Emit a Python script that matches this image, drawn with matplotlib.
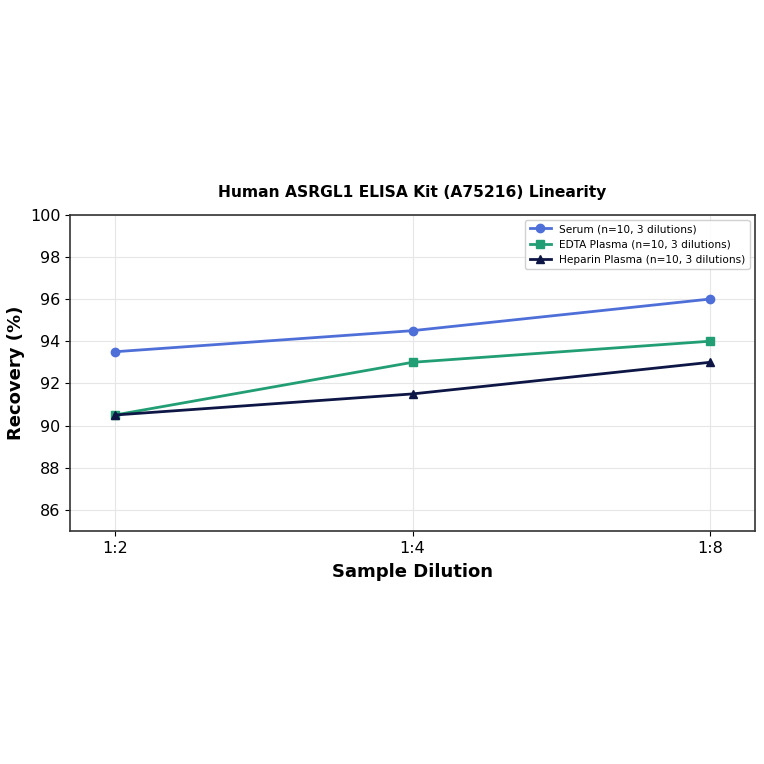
import matplotlib
matplotlib.use("Agg")
import matplotlib.pyplot as plt

# 数据
dilutions = ["1:2", "1:4", "1:8"]
serum = [93.5, 94.5, 96.0]
edta = [90.5, 93.0, 94.0]
heparin = [90.5, 91.5, 93.0]

fig = plt.figure(figsize=(7.64, 7.64), dpi=100)
ax = fig.add_axes([0.092, 0.305, 0.896, 0.414])

x = range(len(dilutions))
ax.plot(x, serum, marker="o", color="#4f6fd8", linewidth=2, markersize=6,
        label="Serum (n=10, 3 dilutions)")
ax.plot(x, edta, marker="s", color="#229e74", linewidth=2, markersize=6,
        label="EDTA Plasma (n=10, 3 dilutions)")
ax.plot(x, heparin, marker="^", color="#0d1645", linewidth=2, markersize=6,
        label="Heparin Plasma (n=10, 3 dilutions)")

ax.set_xticks(list(x))
ax.set_xticklabels(dilutions)
ax.set_xlim(-0.15, 2.15)
ax.set_ylim(85, 100)
ax.set_yticks([86, 88, 90, 92, 94, 96, 98, 100])
ax.tick_params(labelsize=11.5)

ax.grid(True, color="#e6e6e6", linewidth=0.8)
ax.set_axisbelow(True)
for s in ax.spines.values():
    s.set_color("#333333")
    s.set_linewidth(1.2)

ax.set_xlabel("Sample Dilution", fontsize=13, fontweight="bold", labelpad=5)
ax.set_ylabel("Recovery (%)", fontsize=13, fontweight="bold")
ax.set_title("Human ASRGL1 ELISA Kit (A75216) Linearity", fontsize=11.2,
             fontweight="bold", pad=13)

ax.legend(loc="upper right", fontsize=7.6, framealpha=0.9)

plt.savefig("out.png", dpi=100)
plt.close()
